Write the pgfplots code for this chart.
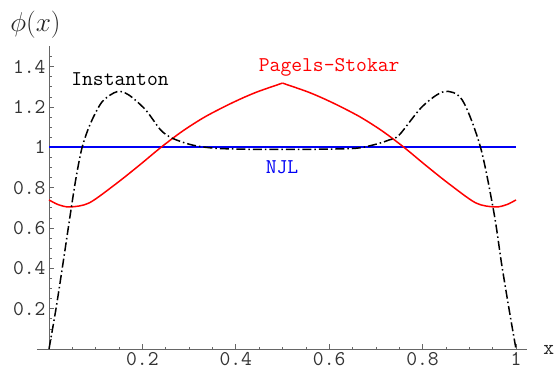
\documentclass[border=0pt]{standalone}
\usepackage{fontspec}
\usepackage{graphicx}
\usepackage{pgfplots}
\pgfplotsset{compat=1.18}
\newcommand{\cour}{\ttfamily\fontsize{21bp}{21bp}\selectfont}
\definecolor{njlblue}{RGB}{0,0,245}
\pgfplotstableread{
x y
0 0.739
0.02 0.7155
0.045 0.704
0.086 0.724
0.143 0.818
0.193 0.91
0.24 1.0
0.286 1.08
0.335 1.152
0.393 1.221
0.443 1.272
0.5 1.318
}\psleft
\pgfplotstableread{
x y
0.5 1.318
0.557 1.272
0.607 1.221
0.665 1.152
0.714 1.08
0.76 1.0
0.807 0.91
0.857 0.818
0.914 0.724
0.955 0.704
0.98 0.7155
1 0.739
}\psright
\pgfplotstableread{
x y
0 0
0.015 0.2
0.03 0.425
0.046 0.673
0.058 0.85
0.071 1.0
0.089 1.119
0.114 1.226
0.146 1.276
0.171 1.259
0.207 1.185
0.239 1.086
0.264 1.045
0.307 1.011
0.357 0.995
0.43 0.99
0.5 0.99
0.57 0.99
0.657 0.995
0.7 1.015
0.728 1.036
0.75 1.061
0.799 1.201
0.846 1.276
0.885 1.234
0.924 1.0
0.953 0.673
0.969 0.425
0.985 0.2
1 0
}\inst
\begin{document}
\begin{tikzpicture}
\useasboundingbox (-37bp,-20bp) rectangle (519bp,349bp);
\begin{axis}[
  at={(0,0)}, anchor=south west,
  scale only axis, width=490bp, height=302.6bp,
  xmin=-0.0257, xmax=1.0236, ymin=0, ymax=1.5,
  axis lines=middle,
  axis line style={-, draw=black!60, line width=0.8bp},
  xtick={0.2,0.4,0.6,0.8,1},
  xticklabels={0.2,0.4,0.6,0.8,1},
  ytick={0.2,0.4,0.6,0.8,1,1.2,1.4},
  yticklabels={0.2,0.4,0.6,0.8,1,1.2,1.4},
  minor xtick={0.05,0.1,0.15,0.25,0.3,0.35,0.45,0.5,0.55,0.65,0.7,0.75,0.85,0.9,0.95},
  minor ytick={0.05,0.1,0.15,0.25,0.3,0.35,0.45,0.5,0.55,0.65,0.7,0.75,0.85,0.9,0.95,1.05,1.1,1.15,1.25,1.3,1.35,1.45},
  tick align=inside,
  major tick length=5bp, minor tick length=2.5bp,
  tick style={black!60, line width=0.6bp},
  tick label style={font=\cour, text=black!80},
  /pgf/number format/assume math mode=true,
  clip=false,
]
\addplot[color=njlblue, line width=1.6bp] coordinates {(0,1) (0.5,1) (1,1)};
\addplot[red, line width=1.5bp, smooth] table {\psleft};
\addplot[red, line width=1.5bp, smooth] table {\psright};
\addplot[black, line width=1.5bp, smooth, dash pattern=on 9bp off 3bp on 1.5bp off 3bp] table {\inst};
\node[anchor=base, font=\cour, text=black] at (axis cs:0.152,1.304) {Instanton};
\node[anchor=base, font=\cour, text=red] at (axis cs:0.6,1.378) {Pagels-Stokar};
\node[anchor=base, font=\cour, text=njlblue] at (axis cs:0.499,0.871) {NJL};
\node[anchor=center, text=black!85] at (axis cs:-0.029,1.606) {\scalebox{1.1}{\fontsize{24.88pt}{26pt}\selectfont$\phi(x)$}};
\node[anchor=center, font=\cour, text=black!85] at (axis cs:1.07,-0.005) {x};
\end{axis}
\end{tikzpicture}
\end{document}
